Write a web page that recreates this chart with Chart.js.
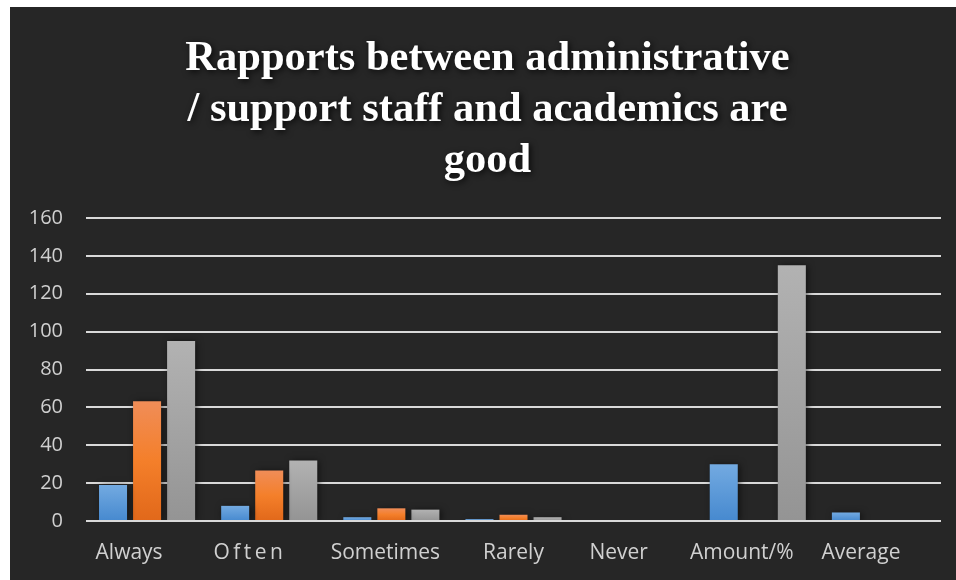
<!DOCTYPE html>
<html>
<head>
<meta charset="utf-8">
<script src="https://cdn.jsdelivr.net/npm/chart.js@4"></script>
<style>
  html, body { margin: 0; padding: 0; background: #ffffff; }
  #panel { position: absolute; left: 10px; top: 7px; width: 946px; height: 573px; background: #262626; }
  canvas { display: block; }
</style>
</head>
<body>
<div id="panel"><canvas id="chart" width="946" height="573"></canvas></div>
<script>
// Survey item: response counts, share of respondents and weighted score
const categories = ['Always', 'O\u2009f\u2009t\u2009e\u2009n', 'Sometimes', 'Rarely', 'Never', 'Amount/%', 'Average'];
const countValues = [19, 8, 2, 1, 0, 30, 4.5];
const percentValues = [63.3, 26.7, 6.7, 3.3, 0, null, null];
const scoreValues = [95, 32, 6, 2, 0, 135, null];
const yMin = 0;
const yMax = 160;
const yStep = 20;
const titleLines = ['Rapports between administrative', '/ support staff and academics are', 'good'];

// horizontal shift (px) of each category label from its slot centre
const labelShift = [-18, -21, -6, 0, -17, -16, -19];
// horizontal shift (px) of the title block
const titleShift = 12;

const labelColor = '#d0d0d0';
const gridColor = '#d9d9d9';

// Vertical gradient per bar, from its top down to the zero line
function barGradient(stops) {
  return (ctx) => {
    const chart = ctx.chart;
    const y = chart.scales && chart.scales.y;
    const v = ctx.raw;
    const last = stops[stops.length - 1][1];
    if (!y || v === null || v === undefined) return last;
    const y0 = y.getPixelForValue(0);
    const y1 = y.getPixelForValue(v);
    if (!isFinite(y0) || !isFinite(y1) || Math.abs(y0 - y1) < 0.5) return last;
    const g = chart.ctx.createLinearGradient(0, y1, 0, y0);
    stops.forEach(([p, c]) => g.addColorStop(p, c));
    return g;
  };
}

const chartDecor = {
  id: 'chartDecor',
  afterLayout(chart) {
    const tb = chart.titleBlock;
    if (tb && !tb._shadowWrapped) {
      const orig = tb.draw.bind(tb);
      tb.draw = function () {
        const c = chart.ctx;
        c.save();
        c.translate(titleShift, 0);
        c.shadowColor = 'rgba(0,0,0,0.75)';
        c.shadowBlur = 6;
        c.shadowOffsetX = 2;
        c.shadowOffsetY = 2;
        orig();
        c.restore();
      };
      tb._shadowWrapped = true;
    }
  },
  beforeDraw(chart) {
    const items = chart.scales.x.getLabelItems();
    if (!items._shifted) {
      items.forEach((it, i) => {
        const s = labelShift[i] || 0;
        it.options.translation = [it.options.translation[0] + s, it.options.translation[1]];
      });
      items._shifted = true;
    }
  },
  beforeDatasetsDraw(chart) {
    const c = chart.ctx;
    c.save();
    c.shadowColor = 'rgba(0,0,0,0.6)';
    c.shadowBlur = 7;
    c.shadowOffsetX = 2;
    c.shadowOffsetY = 1;
  },
  afterDatasetsDraw(chart) {
    const c = chart.ctx;
    c.restore();
    const y = chart.scales.y;
    const a = chart.chartArea;
    const py = Math.round(y.getPixelForValue(0));
    c.save();
    c.strokeStyle = gridColor;
    c.lineWidth = 2;
    c.beginPath();
    c.moveTo(a.left, py);
    c.lineTo(a.right, py);
    c.stroke();
    c.restore();
  }
};

new Chart(document.getElementById('chart'), {
  type: 'bar',
  data: {
    labels: categories,
    datasets: [
      {
        label: 'Count',
        data: countValues,
        backgroundColor: barGradient([[0, '#73aae1'], [1, '#4689cf']])
      },
      {
        label: 'Percent',
        data: percentValues,
        backgroundColor: barGradient([[0, '#f08d58'], [0.5, '#f47f2a'], [1, '#e1681a']])
      },
      {
        label: 'Score',
        data: scoreValues,
        backgroundColor: barGradient([[0, '#b2b2b2'], [1, '#949494']])
      }
    ]
  },
  options: {
    responsive: false,
    animation: false,
    events: [],
    categoryPercentage: 0.836,
    barPercentage: 0.8235,
    layout: { padding: { left: 0, right: 15, top: 0, bottom: 0 } },
    plugins: {
      legend: { display: false },
      tooltip: { enabled: false },
      title: {
        display: true,
        text: titleLines,
        color: '#ffffff',
        font: { family: '"Liberation Serif", "Times New Roman", serif', size: 42.5, weight: 'bold', lineHeight: 1.2 },
        padding: { top: 27, bottom: 31 }
      }
    },
    scales: {
      x: {
        grid: { display: false, drawTicks: false },
        border: { display: false },
        ticks: {
          color: labelColor,
          font: { family: '"Open Sans", sans-serif', size: 21 },
          padding: 19,
          maxRotation: 0,
          autoSkip: false
        },
        afterFit(scale) { scale.height = 59; }
      },
      y: {
        min: yMin,
        max: yMax,
        grid: { color: gridColor, lineWidth: 2, drawTicks: false },
        border: { display: false },
        ticks: {
          stepSize: yStep,
          color: labelColor,
          font: { family: '"Open Sans", sans-serif', size: 20 },
          padding: 23
        },
        afterFit(scale) { scale.width = 76; }
      }
    }
  },
  plugins: [chartDecor]
});
</script>
</body>
</html>
